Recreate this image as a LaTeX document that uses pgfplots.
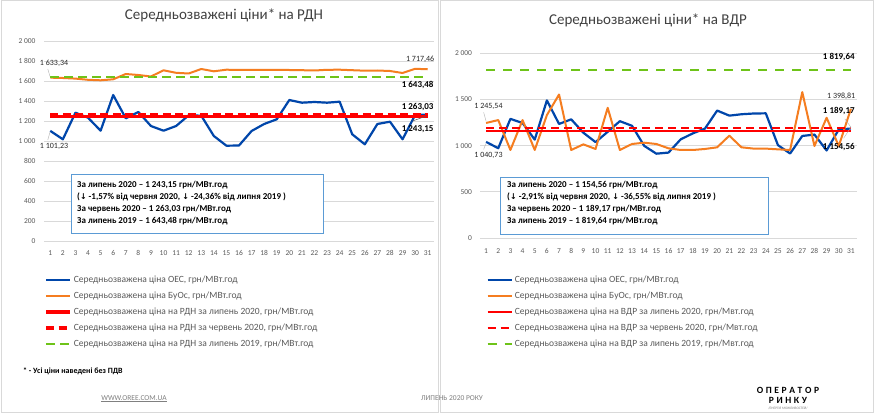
\documentclass[border=0pt]{standalone}
\usepackage{fontspec}
\setmainfont{Carlito}
\newfontfamily\dejavu{DejaVu Sans}
\usepackage{pgfplots}
\pgfplotsset{compat=1.18}
\definecolor{oes}{RGB}{0,70,170}
\definecolor{buos}{RGB}{245,125,32}
\definecolor{avgred}{RGB}{255,0,0}
\definecolor{avggreen}{RGB}{110,195,25}
\definecolor{boxblue}{RGB}{91,155,213}
\definecolor{framegray}{RGB}{217,217,217}
\definecolor{txtgray}{RGB}{89,89,89}
\pgfplotsset{
  panel/.style={
    scale only axis, xmin=0.5, xmax=31.5, ymin=0, ymax=2000,
    axis line style={draw=none}, major tick length=0pt,
    ymajorgrids, grid style={framegray, line width=0.9pt},
    xtick={1,...,31},
    tick label style={font=\fontsize{7.5}{9}\selectfont, text=txtgray},
    /pgf/number format/.cd, 1000 sep={\ }, assume math mode=true, /pgfplots/.cd,
    scaled y ticks=false,
    legend cell align=left,
    legend image code/.code={\draw[##1] (0pt,0pt) -- (24pt,0pt);},
    clip=false,
  },
}
\tikzset{
  lbl/.style={font=\fontsize{8}{9}\selectfont, text=black!85, inner sep=0pt},
  blbl/.style={font=\bfseries\fontsize{9}{10}\selectfont, text=black, inner sep=0pt},
}
\begin{document}
\begin{tikzpicture}
\path[use as bounding box, fill=white] (0pt,0pt) rectangle (874pt,-414pt);
\draw[framegray, line width=1pt] (1pt,-1pt) rectangle (438pt,-412pt);
\draw[framegray, line width=1pt] (440pt,-1pt) rectangle (873pt,-412pt);

% ---------------- Left panel ----------------
\node[font=\fontsize{15}{17}\selectfont, text=black!75] at (224pt,-15pt) {Середньозважені ціни* на РДН};
\begin{axis}[panel, at={(44pt,-241pt)}, anchor=south west, width=390pt, height=200pt,
  ytick={0,200,...,2000},
  xticklabel style={yshift=-6pt}, yticklabel style={xshift=-5pt},
  legend style={at={(0,-0.165)}, anchor=north west, draw=none, fill=none,
    inner xsep=0pt, inner ysep=0pt, font=\fontsize{9.5}{11}\selectfont, text=txtgray, row sep=3.8pt,
    /tikz/every even column/.append style={column sep=1pt}}]
\addplot[oes, line width=2.2pt, line join=round] coordinates {
(1,1101.23)(2,1017)(3,1283)(4,1233)(5,1103)(6,1460)(7,1227)(8,1290)(9,1150)(10,1103)
(11,1150)(12,1257)(13,1253)(14,1050)(15,953)(16,955)(17,1100)(18,1170)(19,1217)(20,1410)
(21,1383)(22,1390)(23,1383)(24,1393)(25,1067)(26,967)(27,1170)(28,1193)(29,1017)(30,1260)(31,1265)};
\addlegendentry{Середньозважена ціна ОЕС, грн/МВт.год}
\addplot[buos, line width=2pt, line join=round] coordinates {
(1,1633.34)(2,1630)(3,1624)(4,1612)(5,1607)(6,1617)(7,1670)(8,1660)(9,1645)(10,1707)
(11,1682)(12,1675)(13,1720)(14,1697)(15,1713)(16,1710)(17,1710)(18,1712)(19,1710)(20,1710)
(21,1708)(22,1705)(23,1712)(24,1713)(25,1708)(26,1703)(27,1705)(28,1700)(29,1680)(30,1722)(31,1717.46)};
\addlegendentry{Середньозважена ціна БуОс, грн/МВт.год}
\addplot[avgred, line width=3.2pt] coordinates {(1,1243.15)(31,1243.15)};
\addlegendentry{Середньозважена ціна на РДН за липень 2020, грн/МВт.год}
\addplot[avgred, line width=3.6pt, dash pattern=on 8pt off 4.5pt] coordinates {(1,1263.03)(31,1263.03)};
\addlegendentry{Середньозважена ціна на РДН за червень 2020, грн/МВт.год}
\addplot[avggreen, line width=2.2pt, dash pattern=on 9pt off 5pt] coordinates {(1,1643.48)(31,1643.48)};
\addlegendentry{Середньозважена ціна на РДН за липень 2019, грн/МВт.год}
\node[lbl] at (axis cs:1.3,1780) {1 633,34};
\draw[gray!60, line width=0.4pt] (axis cs:0.8,1720) -- (axis cs:0.98,1645);
\node[lbl] at (axis cs:1.3,948) {1 101,23};
\draw[gray!60, line width=0.4pt] (axis cs:0.8,1010) -- (axis cs:0.98,1090);
\node[lbl] at (axis cs:30.4,1820) {1 717,46};
\node[blbl] at (axis cs:30.2,1560) {1 643,48};
\node[blbl] at (axis cs:30.2,1340) {1 263,03};
\node[blbl] at (axis cs:30.2,1120) {1 243,15};
\draw[gray!70!black, line width=0.5pt] (axis cs:29.8,1200) -- (axis cs:30.9,1250);
\end{axis}
\draw[boxblue, line width=0.9pt, fill=white] (71pt,-174pt) rectangle (323pt,-233pt);
\begin{scope}[every node/.style={anchor=west, inner sep=0pt, font=\bfseries\fontsize{9}{10}\selectfont, text=black}]
\node at (77pt,-185.5pt) {За липень 2020 – 1 243,15 грн/МВт.год};
\node at (77pt,-197pt) {({\dejavu\fontsize{8}{9}\selectfont↓} -1,57\% від червня 2020, {\dejavu\fontsize{8}{9}\selectfont↓} -24,36\% від липня 2019 )};
\node at (77pt,-209pt) {За червень 2020 – 1 263,03 грн/МВт.год};
\node at (77pt,-221pt) {За липень 2019 – 1 643,48 грн/МВт.год};
\end{scope}

% ---------------- Right panel ----------------
\node[font=\fontsize{15}{17}\selectfont, text=black!75] at (648pt,-20pt) {Середньозважені ціни* на ВДР};
\begin{axis}[panel, at={(480pt,-238pt)}, anchor=south west, width=377pt, height=184.7pt,
  ytick={0,500,...,2000},
  xticklabel style={yshift=-7pt}, yticklabel style={xshift=-4.5pt},
  legend style={at={(0.017,-0.195)}, anchor=north west, draw=none, fill=none,
    inner xsep=0pt, inner ysep=0pt, font=\fontsize{9.5}{11}\selectfont, text=txtgray, row sep=3.8pt,
    /tikz/every even column/.append style={column sep=1pt}}]
\addplot[oes, line width=2.2pt, line join=round] coordinates {
(1,1040.73)(2,972)(3,1290)(4,1245)(5,1065)(6,1490)(7,1235)(8,1285)(9,1140)(10,1038)
(11,1150)(12,1265)(13,1215)(14,998)(15,913)(16,925)(17,1068)(18,1133)(19,1185)(20,1380)
(21,1325)(22,1340)(23,1348)(24,1350)(25,1005)(26,915)(27,1105)(28,1120)(29,948)(30,1175)(31,1185)};
\addlegendentry{Середньозважена ціна ОЕС, грн/МВт.год}
\addplot[buos, line width=2pt, line join=round] coordinates {
(1,1245.54)(2,1277)(3,953)(4,1277)(5,953)(6,1331)(7,1554)(8,953)(9,1014)(10,964)
(11,1410)(12,953)(13,1018)(14,1032)(15,1018)(16,971)(17,953)(18,953)(19,964)(20,982)
(21,1108)(22,982)(23,968)(24,968)(25,960)(26,953)(27,1580)(28,996)(29,1302)(30,996)(31,1398.81)};
\addlegendentry{Середньозважена ціна БуОс, грн/МВт.год}
\addplot[avgred, line width=2.2pt] coordinates {(1,1154.56)(31,1154.56)};
\addlegendentry{Середньозважена ціна на ВДР за липень 2020, грн/Мвт.год}
\addplot[avgred, line width=2.2pt, dash pattern=on 8pt off 5pt] coordinates {(1,1189.17)(31,1189.17)};
\addlegendentry{Середньозважена ціна на ВДР за червень 2020, грн/Мвт.год}
\addplot[avggreen, line width=2.2pt, dash pattern=on 9pt off 8pt] coordinates {(1,1819.64)(31,1819.64)};
\addlegendentry{Середньозважена ціна на ВДР за липень 2019, грн/Мвт.год}
\node[lbl] at (axis cs:1.2,1420) {1 245,54};
\draw[gray!60, line width=0.4pt] (axis cs:0.8,1360) -- (axis cs:1,1265);
\node[lbl] at (axis cs:1.2,899) {1 040,73};
\draw[gray!60, line width=0.4pt] (axis cs:0.8,960) -- (axis cs:1,1025);
\node[blbl] at (axis cs:30.0,1965) {1 819,64};
\node[lbl] at (axis cs:30.2,1530) {1 398,81};
\node[blbl] at (axis cs:30.0,1370) {1 189,17};
\node[blbl] at (axis cs:30.0,980) {1 154,56};
\draw[gray!60, line width=0.4pt] (axis cs:30.5,1290) -- (axis cs:31,1200) -- (axis cs:30.4,1080);
\end{axis}
\draw[boxblue, line width=0.9pt, fill=white] (500pt,-177pt) rectangle (768pt,-234pt);
\begin{scope}[every node/.style={anchor=west, inner sep=0pt, font=\bfseries\fontsize{9}{10}\selectfont, text=black}]
\node at (507pt,-185.5pt) {За липень 2020 – 1 154,56 грн/МВт.год};
\node at (507pt,-197pt) {({\dejavu\fontsize{8}{9}\selectfont↓} -2,91\% від червня 2020, {\dejavu\fontsize{8}{9}\selectfont↓} -36,55\% від липня 2019 )};
\node at (507pt,-209pt) {За червень 2020 – 1 189,17 грн/МВт.год};
\node at (507pt,-221pt) {За липень 2019 – 1 819,64 грн/МВт.год};
\end{scope}

% ---------------- Footer ----------------
\node[anchor=west, inner sep=0pt, font=\bfseries\fontsize{8}{9}\selectfont] at (23pt,-371pt) {* - Усі ціни наведені без ПДВ};
\node[inner sep=0pt, font=\fontsize{7.5}{9}\selectfont, text=gray] (www) at (134pt,-398pt) {WWW.OREE.COM.UA};
\draw[gray, line width=0.4pt] ([yshift=-1pt]www.south west) -- ([yshift=-1pt]www.south east);
\node[inner sep=0pt, font=\fontsize{7.5}{9}\selectfont, text=gray] at (452pt,-398pt) {ЛИПЕНЬ 2020 РОКУ};
\node[inner sep=0pt, font=\bfseries\fontsize{9.5}{10}\selectfont] at (788pt,-390pt) {О\hspace{2.6pt}П\hspace{2.6pt}Е\hspace{2.6pt}Р\hspace{2.6pt}А\hspace{2.6pt}Т\hspace{2.6pt}О\hspace{2.6pt}Р};
\node[inner sep=0pt, font=\bfseries\fontsize{9.5}{10}\selectfont] at (788pt,-400pt) {Р\hspace{2.6pt}И\hspace{2.6pt}Н\hspace{2.6pt}К\hspace{2.6pt}У};
\node[inner sep=0pt, font=\fontsize{3.5}{4}\selectfont, text=gray] at (788pt,-408pt) {/ЕНЕРГІЯ МОЖЛИВОСТЕЙ/};
\end{tikzpicture}
\end{document}
